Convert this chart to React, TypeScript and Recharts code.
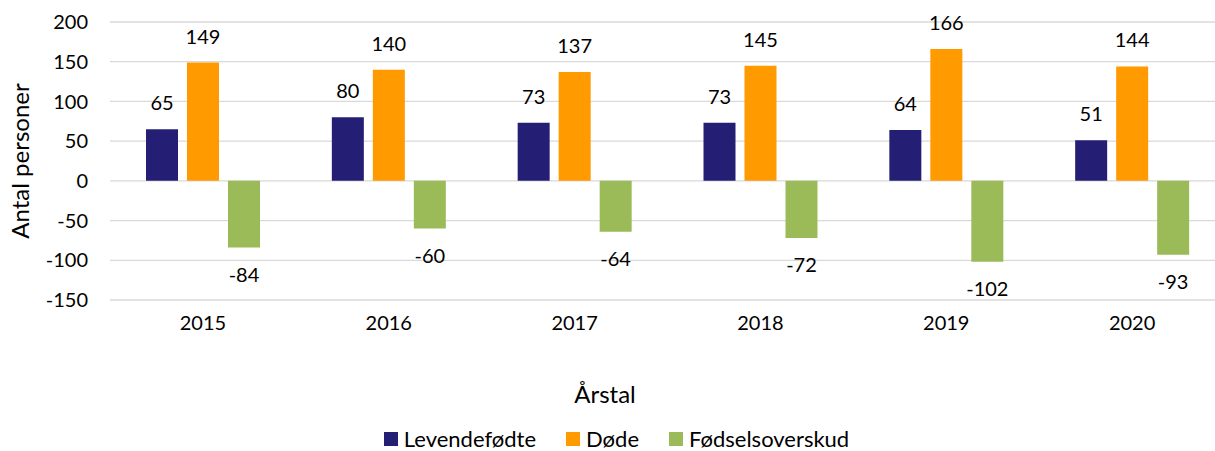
import React from 'react';
import {
  BarChart,
  Bar,
  XAxis,
  YAxis,
  CartesianGrid,
  Legend,
  LabelList,
} from 'recharts';

// ---------------------------------------------------------------------------
// Data
// ---------------------------------------------------------------------------

const YEARS = ['2015', '2016', '2017', '2018', '2019', '2020'];
const LEVENDEFODTE = [65, 80, 73, 73, 64, 51];
const DODE = [149, 140, 137, 145, 166, 144];
const FODSELSOVERSKUD = [-84, -60, -64, -72, -102, -93];
const Y_TICKS = [-150, -100, -50, 0, 50, 100, 150, 200];

const SERIES = [
  { key: 'levendefodte', name: 'Levendefødte', color: '#241E74' },
  { key: 'dode', name: 'Døde', color: '#FF9A00' },
  { key: 'fodselsoverskud', name: 'Fødselsoverskud', color: '#9BBB59' },
];

const FONT = 'Lato, "Open Sans", sans-serif';

// ---------------------------------------------------------------------------
// Helpers
// ---------------------------------------------------------------------------

const BarValueLabel = (props: any) => {
  const { x, y, width, height, value } = props;
  const top = Math.min(y, y + height);
  const bottom = Math.max(y, y + height);
  const cx = x + width / 2;
  if (value >= 0) {
    return (
      <text x={cx} y={top - 19} textAnchor="middle" fontSize={20} fill="#000" fontFamily={FONT}>
        {value}
      </text>
    );
  }
  return (
    <text x={cx} y={bottom + 34} textAnchor="middle" fontSize={20} fill="#000" fontFamily={FONT}>
      {value}
    </text>
  );
};

const LegendContent = () => (
  <div
    style={{
      boxSizing: 'border-box',
      height: 41,
      paddingTop: 16,
      paddingLeft: 8,
      display: 'flex',
      justifyContent: 'center',
      alignItems: 'flex-start',
      fontFamily: FONT,
      fontSize: 22,
      lineHeight: '25px',
      color: '#000',
    }}
  >
    {SERIES.map((s) => (
      <div key={s.key} style={{ display: 'flex', alignItems: 'center', margin: '0 15px' }}>
        <span style={{ display: 'inline-block', width: 14, height: 14, background: s.color, marginRight: 6 }} />
        <span>{s.name}</span>
      </div>
    ))}
  </div>
);

// ---------------------------------------------------------------------------
// Component
// ---------------------------------------------------------------------------

export default function App() {
  const data = YEARS.map((year, i) => ({
    year,
    levendefodte: LEVENDEFODTE[i],
    dode: DODE[i],
    fodselsoverskud: FODSELSOVERSKUD[i],
  }));

  return (
    <div
      style={{
        position: 'absolute',
        left: 0,
        top: 0,
        width: 1215,
        height: 451,
        overflow: 'hidden',
        background: '#fff',
      }}
    >
      <BarChart
        width={1240}
        height={451}
        data={data}
        margin={{ top: 22, right: 15, left: 0, bottom: 0 }}
        barGap={9}
      >
        <CartesianGrid vertical={false} stroke="#d9d9d9" strokeWidth={1.3} />
        <XAxis
          dataKey="year"
          height={110}
          axisLine={false}
          tickLine={false}
          tickMargin={10}
          tick={{ fontSize: 20, fill: '#000', fontFamily: FONT }}
          label={{
            content: () => (
              <text x={605} y={403} textAnchor="middle" fontSize={24} fill="#000" fontFamily={FONT}>
                Årstal
              </text>
            ),
          }}
        />
        <YAxis
          width={110}
          domain={[-150, 200]}
          ticks={Y_TICKS}
          interval={0}
          axisLine={false}
          tickLine={false}
          tickMargin={16}
          tick={{ fontSize: 20, fill: '#000', fontFamily: FONT }}
          label={{
            content: () => (
              <text
                x={19}
                y={161}
                transform="rotate(-90, 19, 161)"
                textAnchor="middle"
                dominantBaseline="central"
                fontSize={24}
                fill="#000"
                fontFamily={FONT}
              >
                Antal personer
              </text>
            ),
          }}
        />
        <Legend verticalAlign="bottom" content={<LegendContent />} />
        {SERIES.map((s) => (
          <Bar
            key={s.key}
            dataKey={s.key}
            name={s.name}
            fill={s.color}
            barSize={32}
            isAnimationActive={false}
          >
            <LabelList dataKey={s.key} content={<BarValueLabel />} />
          </Bar>
        ))}
      </BarChart>
    </div>
  );
}
